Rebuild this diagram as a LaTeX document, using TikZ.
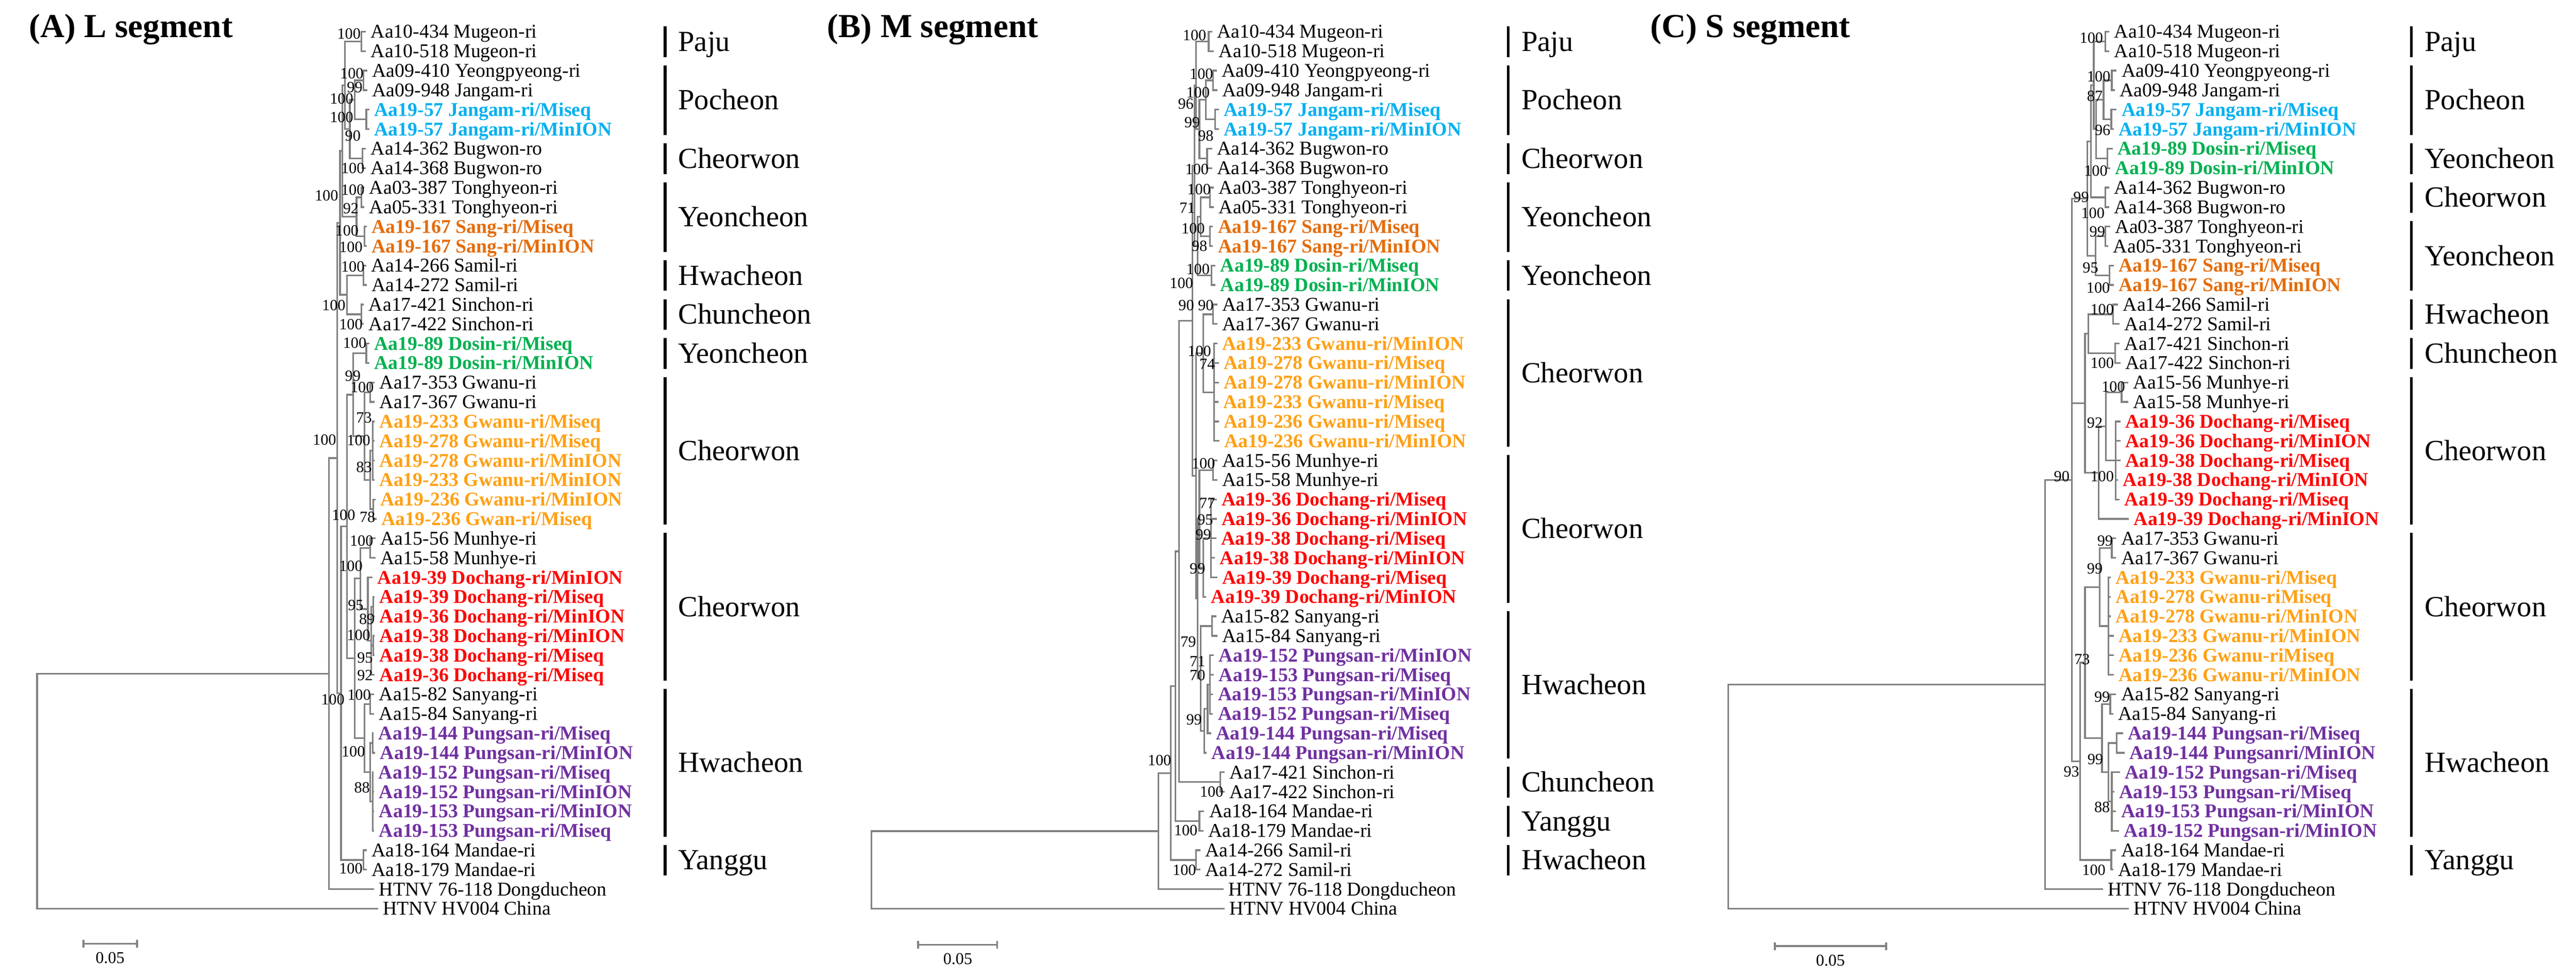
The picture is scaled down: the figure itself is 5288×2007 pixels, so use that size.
\documentclass[tikz,border=0pt]{standalone}
\usepackage{fontspec}
\setmainfont{Liberation Serif}
\usetikzlibrary{calc}
\definecolor{cblue}{RGB}{0,176,240}
\definecolor{csang}{RGB}{228,108,10}
\definecolor{cgreen}{RGB}{0,176,80}
\definecolor{corange}{RGB}{255,160,20}
\definecolor{cred}{RGB}{255,0,0}
\definecolor{cpurple}{RGB}{112,48,160}
\definecolor{tgray}{RGB}{128,128,128}
\tikzset{
 leaf/.style={anchor=west,inner xsep=10pt,inner ysep=0pt,text height=26.5pt,text depth=0pt,font=\fontsize{40}{40}\selectfont},
 cbl/.style={text=cblue,font=\fontsize{40}{40}\selectfont\bfseries},
 cso/.style={text=csang,font=\fontsize{40}{40}\selectfont\bfseries},
 cgr/.style={text=cgreen,font=\fontsize{40}{40}\selectfont\bfseries},
 cor/.style={text=corange,font=\fontsize{40}{40}\selectfont\bfseries},
 crd/.style={text=cred,font=\fontsize{40}{40}\selectfont\bfseries},
 cpu/.style={text=cpurple,font=\fontsize{40}{40}\selectfont\bfseries},
 br/.style={draw=tgray,line width=3.5pt},
 bsl/.style={anchor=west,inner sep=0pt,text height=21.6pt,text depth=0pt,font=\fontsize{32}{32}\selectfont},
 gbar/.style={draw=black,line width=6pt},
 glab/.style={anchor=west,inner sep=0pt,text height=40pt,text depth=0pt,font=\fontsize{60}{60}\selectfont},
 ttl/.style={anchor=west,inner sep=0pt,text height=45.7pt,text depth=0pt,font=\fontsize{69}{69}\selectfont\bfseries},
 sbar/.style={draw=tgray,line width=4pt},
 slab/.style={inner sep=0pt,font=\fontsize{34}{34}\selectfont}
}
\newcommand\lf[5]{\node[leaf,#1] (#2) at (#3,#4) {#5};}
\newcommand\tn[4]{\path let \p1=(#3), \p2=(#4) in node[coordinate] (#1) at (#2,{0.5*\y1+0.5*\y2}) {};}
\newcommand\br[2]{\draw[br] (#1) |- (#2);}
\newcommand\brs[2]{\foreach \q in {#2}{\br{#1}{\q}}}
\newcommand\pr[4]{\tn{#1}{#2}{#3.west}{#4.west}\br{#1}{#3.west}\br{#1}{#4.west}}
\newcommand\cl[4]{\tn{#1}{#2}{#3}{#4}\br{#1}{#3}\br{#1}{#4}}
\newcommand\bs[4]{\node[bsl] (#1) at (#2,#3) {#4};}
\newcommand\grp[5]{\coordinate (#1t) at (#2,{#3-11});\coordinate (#1b) at (#2,{#4+12});\draw[gbar] (#1t) -- (#1b);\node[glab] (#1) at ({#2+27},{(#3+#4)/2}) {#5};}
\newcommand\sbr[5]{\coordinate (#1a) at (#2,#4);\coordinate (#1b) at (#3,#4);\draw[sbar] (#1a) -- (#1b);\draw[sbar] ([yshift=8pt]#1a) -- ([yshift=-8pt]#1a);\draw[sbar] ([yshift=8pt]#1b) -- ([yshift=-8pt]#1b);\node[slab] (#1l) at ({(#2+#3)/2},{#4+29}) {#5};}
\begin{document}
\begin{tikzpicture}[x=1pt,y=-1pt]
\useasboundingbox (0,0) rectangle (5288,2007);
\fill[white] (0,0) rectangle (5288,2007);
% ================= Panel A =================
\node[ttl] (tA) at (60,54) {(A) L segment};
\lf{}{a1}{751}{65}{Aa10-434 Mugeon-ri}
\lf{}{a2}{751}{105}{Aa10-518 Mugeon-ri}
\lf{}{a3}{754}{145}{Aa09-410 Yeongpyeong-ri}
\lf{}{a4}{754}{185}{Aa09-948 Jangam-ri}
\lf{cbl}{a5}{758}{225}{Aa19-57 Jangam-ri/Miseq}
\lf{cbl}{a6}{758}{265}{Aa19-57 Jangam-ri/MinION}
\lf{}{a7}{751}{305}{Aa14-362 Bugwon-ro}
\lf{}{a8}{751}{345}{Aa14-368 Bugwon-ro}
\lf{}{a9}{748}{385}{Aa03-387 Tonghyeon-ri}
\lf{}{a10}{748}{425}{Aa05-331 Tonghyeon-ri}
\lf{cso}{a11}{753}{465}{Aa19-167 Sang-ri/Miseq}
\lf{cso}{a12}{753}{505}{Aa19-167 Sang-ri/MinION}
\lf{}{a13}{752}{545}{Aa14-266 Samil-ri}
\lf{}{a14}{753}{585}{Aa14-272 Samil-ri}
\lf{}{a15}{747}{625}{Aa17-421 Sinchon-ri}
\lf{}{a16}{747}{665}{Aa17-422 Sinchon-ri}
\lf{cgr}{a17}{758}{705}{Aa19-89 Dosin-ri/Miseq}
\lf{cgr}{a18}{758}{745}{Aa19-89 Dosin-ri/MinION}
\lf{}{a19}{769}{785}{Aa17-353 Gwanu-ri}
\lf{}{a20}{769}{825}{Aa17-367 Gwanu-ri}
\lf{cor}{a21}{769}{865}{Aa19-233 Gwanu-ri/Miseq}
\lf{cor}{a22}{769}{905}{Aa19-278 Gwanu-ri/Miseq}
\lf{cor}{a23}{769}{945}{Aa19-278 Gwanu-ri/MinION}
\lf{cor}{a24}{769}{985}{Aa19-233 Gwanu-ri/MinION}
\lf{cor}{a25}{771}{1025}{Aa19-236 Gwanu-ri/MinION}
\lf{cor}{a26}{773}{1065}{Aa19-236 Gwan-ri/Miseq}
\lf{}{a27}{771}{1105}{Aa15-56 Munhye-ri}
\lf{}{a28}{771}{1145}{Aa15-58 Munhye-ri}
\lf{crd}{a29}{765}{1185}{Aa19-39 Dochang-ri/MinION}
\lf{crd}{a30}{769}{1225}{Aa19-39 Dochang-ri/Miseq}
\lf{crd}{a31}{769}{1265}{Aa19-36 Dochang-ri/MinION}
\lf{crd}{a32}{769}{1305}{Aa19-38 Dochang-ri/MinION}
\lf{crd}{a33}{769}{1345}{Aa19-38 Dochang-ri/Miseq}
\lf{crd}{a34}{769}{1385}{Aa19-36 Dochang-ri/Miseq}
\lf{}{a35}{768}{1425}{Aa15-82 Sanyang-ri}
\lf{}{a36}{768}{1465}{Aa15-84 Sanyang-ri}
\lf{cpu}{a37}{767}{1505}{Aa19-144 Pungsan-ri/Miseq}
\lf{cpu}{a38}{770}{1545}{Aa19-144 Pungsan-ri/MinION}
\lf{cpu}{a39}{767}{1585}{Aa19-152 Pungsan-ri/Miseq}
\lf{cpu}{a40}{768}{1625}{Aa19-152 Pungsan-ri/MinION}
\lf{cpu}{a41}{768}{1665}{Aa19-153 Pungsan-ri/MinION}
\lf{cpu}{a42}{768}{1705}{Aa19-153 Pungsan-ri/Miseq}
\lf{}{a43}{753}{1745}{Aa18-164 Mandae-ri}
\lf{}{a44}{753}{1785}{Aa18-179 Mandae-ri}
\lf{}{a45}{768}{1825}{HTNV 76-118 Dongducheon}
\lf{}{a46}{776}{1865}{HTNV HV004 China}
\pr{A12}{742}{a1}{a2}
\pr{A34}{746}{a3}{a4}
\pr{A56}{752}{a5}{a6}
\cl{A36}{728}{A34}{A56}
\pr{A78}{744}{a7}{a8}
\cl{A38}{718}{A36}{A78}
\cl{A18}{708}{A12}{A38}
\pr{A910}{742}{a9}{a10}
\pr{A1112}{748}{a11}{a12}
\cl{A912}{732}{A910}{A1112}
\cl{A112}{703}{A18}{A912}
\pr{A1314}{746}{a13}{a14}
\pr{A1516}{742}{a15}{a16}
\cl{A1316}{712}{A1314}{A1516}
\cl{AX}{698}{A112}{A1316}
\pr{A1718}{752}{a17}{a18}
\pr{A1920}{760}{a19}{a20}
\tn{A2124}{765}{a21.west}{a24.west}\brs{A2124}{a21.west,a22.west,a23.west,a24.west}
\pr{A2526}{766}{a25}{a26}
\cl{AGO}{760}{A2124}{A2526}
\cl{A1926}{748}{A1920}{AGO}
\cl{A1726}{725}{A1718}{A1926}
\pr{A2728}{760}{a27}{a28}
\pr{A3031}{766}{a30}{a31}
\pr{A3233}{766}{a32}{a33}
\tn{A3034}{762}{A3031}{a34.west}\brs{A3034}{A3031,A3233,a34.west}
\tn{A2934}{755}{a29.west}{A3034}\brs{A2934}{a29.west,A3034}
\cl{A2734}{740}{A2728}{A2934}
\pr{A3536}{760}{a35}{a36}
\pr{A3738}{765}{a37}{a38}
\tn{A3942}{765}{a39.west}{a42.west}\brs{A3942}{a39.west,a40.west,a41.west,a42.west}
\cl{A3742}{760}{A3738}{A3942}
\cl{A3542}{748}{A3536}{A3742}
\cl{A2742}{728}{A2734}{A3542}
\cl{A1742}{712}{A1726}{A2742}
\pr{A4344}{746}{a43}{a44}
\cl{AY}{700}{A1742}{A4344}
\cl{AN2}{692}{AX}{AY}
\tn{AN1}{675}{AN2}{a45.west}\brs{AN1}{AN2,a45.west}
\tn{AR}{76}{AN1}{a46.west}\brs{AR}{AN1,a46.west}
\bs{bA1}{692}{69}{100}
\bs{bA2}{698}{150}{100}
\bs{bA3}{712}{179}{99}
\bs{bA4}{677}{202}{100}
\bs{bA5}{677}{240}{100}
\bs{bA6}{708}{278}{90}
\bs{bA7}{700}{345}{100}
\bs{bA8}{646}{401}{100}
\bs{bA9}{700}{390}{100}
\bs{bA10}{704}{428}{92}
\bs{bA11}{688}{473}{100}
\bs{bA12}{696}{507}{100}
\bs{bA13}{700}{547}{100}
\bs{bA14}{661}{626}{100}
\bs{bA15}{696}{666}{100}
\bs{bA16}{704}{704}{100}
\bs{bA17}{708}{771}{99}
\bs{bA18}{719}{795}{100}
\bs{bA19}{731}{857}{73}
\bs{bA20}{642}{902}{100}
\bs{bA21}{712}{904}{100}
\bs{bA22}{731}{958}{83}
\bs{bA23}{681}{1057}{100}
\bs{bA24}{738}{1061}{78}
\bs{bA25}{718}{1110}{100}
\bs{bA26}{696}{1162}{100}
\bs{bA27}{714}{1242}{95}
\bs{bA28}{737}{1270}{89}
\bs{bA29}{712}{1303}{100}
\bs{bA30}{733}{1350}{95}
\bs{bA31}{733}{1386}{92}
\bs{bA32}{659}{1435}{100}
\bs{bA33}{713}{1426}{100}
\bs{bA34}{701}{1542}{100}
\bs{bA35}{727}{1616}{88}
\bs{bA36}{696}{1782}{100}
\grp{gA1}{1365}{65}{105}{Paju}
\grp{gA2}{1365}{145}{265}{Pocheon}
\grp{gA3}{1365}{305}{345}{Cheorwon}
\grp{gA4}{1365}{385}{505}{Yeoncheon}
\grp{gA5}{1365}{545}{585}{Hwacheon}
\grp{gA6}{1365}{625}{665}{Chuncheon}
\grp{gA7}{1365}{705}{745}{Yeoncheon}
\grp{gA8}{1365}{785}{1065}{Cheorwon}
\grp{gA9}{1365}{1105}{1385}{Cheorwon}
\grp{gA10}{1365}{1425}{1705}{Hwacheon}
\grp{gA11}{1365}{1745}{1785}{Yanggu}
\sbr{sA}{171}{281}{1937}{0.05}
% ================= Panel B =================
\node[ttl] (tB) at (1698,54) {(B) M segment};
\lf{}{b1}{2488}{65}{Aa10-434 Mugeon-ri}
\lf{}{b2}{2492}{105}{Aa10-518 Mugeon-ri}
\lf{}{b3}{2498}{145}{Aa09-410 Yeongpyeong-ri}
\lf{}{b4}{2499}{185}{Aa09-948 Jangam-ri}
\lf{cbl}{b5}{2502}{225}{Aa19-57 Jangam-ri/Miseq}
\lf{cbl}{b6}{2502}{265}{Aa19-57 Jangam-ri/MinION}
\lf{}{b7}{2488}{305}{Aa14-362 Bugwon-ro}
\lf{}{b8}{2488}{345}{Aa14-368 Bugwon-ro}
\lf{}{b9}{2492}{385}{Aa03-387 Tonghyeon-ri}
\lf{}{b10}{2492}{425}{Aa05-331 Tonghyeon-ri}
\lf{cso}{b11}{2490}{465}{Aa19-167 Sang-ri/Miseq}
\lf{cso}{b12}{2490}{505}{Aa19-167 Sang-ri/MinION}
\lf{cgr}{b13}{2495}{545}{Aa19-89 Dosin-ri/Miseq}
\lf{cgr}{b14}{2495}{585}{Aa19-89 Dosin-ri/MinION}
\lf{}{b15}{2499}{625}{Aa17-353 Gwanu-ri}
\lf{}{b16}{2499}{665}{Aa17-367 Gwanu-ri}
\lf{cor}{b17}{2499}{705}{Aa19-233 Gwanu-ri/MinION}
\lf{cor}{b18}{2502}{745}{Aa19-278 Gwanu-ri/Miseq}
\lf{cor}{b19}{2502}{785}{Aa19-278 Gwanu-ri/MinION}
\lf{cor}{b20}{2501}{825}{Aa19-233 Gwanu-ri/Miseq}
\lf{cor}{b21}{2502}{865}{Aa19-236 Gwanu-ri/Miseq}
\lf{cor}{b22}{2503}{905}{Aa19-236 Gwanu-ri/MinION}
\lf{}{b23}{2499}{945}{Aa15-56 Munhye-ri}
\lf{}{b24}{2499}{985}{Aa15-58 Munhye-ri}
\lf{crd}{b25}{2498}{1025}{Aa19-36 Dochang-ri/Miseq}
\lf{crd}{b26}{2498}{1065}{Aa19-36 Dochang-ri/MinION}
\lf{crd}{b27}{2497}{1105}{Aa19-38 Dochang-ri/Miseq}
\lf{crd}{b28}{2494}{1145}{Aa19-38 Dochang-ri/MinION}
\lf{crd}{b29}{2499}{1185}{Aa19-39 Dochang-ri/Miseq}
\lf{crd}{b30}{2476}{1225}{Aa19-39 Dochang-ri/MinION}
\lf{}{b31}{2497}{1265}{Aa15-82 Sanyang-ri}
\lf{}{b32}{2499}{1305}{Aa15-84 Sanyang-ri}
\lf{cpu}{b33}{2492}{1345}{Aa19-152 Pungsan-ri/MinION}
\lf{cpu}{b34}{2492}{1385}{Aa19-153 Pungsan-ri/Miseq}
\lf{cpu}{b35}{2490}{1425}{Aa19-153 Pungsan-ri/MinION}
\lf{cpu}{b36}{2490}{1465}{Aa19-152 Pungsan-ri/Miseq}
\lf{cpu}{b37}{2486}{1505}{Aa19-144 Pungsan-ri/Miseq}
\lf{cpu}{b38}{2477}{1545}{Aa19-144 Pungsan-ri/MinION}
\lf{}{b39}{2514}{1585}{Aa17-421 Sinchon-ri}
\lf{}{b40}{2514}{1625}{Aa17-422 Sinchon-ri}
\lf{}{b41}{2472}{1665}{Aa18-164 Mandae-ri}
\lf{}{b42}{2470}{1705}{Aa18-179 Mandae-ri}
\lf{}{b43}{2464}{1745}{Aa14-266 Samil-ri}
\lf{}{b44}{2464}{1785}{Aa14-272 Samil-ri}
\lf{}{b45}{2512}{1825}{HTNV 76-118 Dongducheon}
\lf{}{b46}{2514}{1865}{HTNV HV004 China}
\pr{B12}{2481}{b1}{b2}
\pr{B34}{2490}{b3}{b4}
\pr{B56}{2494}{b5}{b6}
\cl{B36}{2475}{B34}{B56}
\pr{B78}{2478}{b7}{b8}
\cl{B38}{2462}{B36}{B78}
\cl{B18}{2455}{B12}{B38}
\pr{B910}{2484}{b9}{b10}
\pr{B1112}{2484}{b11}{b12}
\cl{B912}{2465}{B910}{B1112}
\pr{B1314}{2487}{b13}{b14}
\cl{B914}{2458}{B912}{B1314}
\cl{BT}{2452}{B18}{B914}
\pr{B1516}{2490}{b15}{b16}
\tn{B1722}{2492}{b17.west}{b22.west}\brs{B1722}{b17.west,b18.west,b19.west,b20.west,b21.west,b22.west}
\cl{BG}{2470}{B1516}{B1722}
\pr{B2324}{2490}{b23}{b24}
\tn{B2529}{2486}{b25.west}{b29.west}\brs{B2529}{b25.west,b26.west,b27.west,b28.west,b29.west}
\tn{B2530}{2470}{B2529}{b30.west}\brs{B2530}{B2529,b30.west}
\cl{BM}{2462}{B2324}{B2530}
\pr{B3132}{2488}{b31}{b32}
\tn{B3336}{2484}{b33.west}{b36.west}\brs{B3336}{b33.west,b34.west,b35.west,b36.west}
\tn{B3337}{2479}{B3336}{b37.west}\brs{B3337}{B3336,b37.west}
\tn{B3338}{2472}{B3337}{b38.west}\brs{B3338}{B3337,b38.west}
\cl{BS}{2465}{B3132}{B3338}
\cl{BMS}{2458}{BM}{BS}
\cl{BU}{2455}{BG}{BMS}
\cl{BI3}{2448}{BT}{BU}
\pr{B3940}{2505}{b39}{b40}
\cl{BI2}{2420}{BI3}{B3940}
\pr{B4142}{2462}{b41}{b42}
\cl{BI1}{2413}{BI2}{B4142}
\pr{B4344}{2455}{b43}{b44}
\cl{BI}{2403}{BI1}{B4344}
\tn{BN1}{2378}{BI}{b45.west}\brs{BN1}{BI,b45.west}
\tn{BR}{1789}{BN1}{b46.west}\brs{BR}{BN1,b46.west}
\bs{bB1}{2428}{72}{100}
\bs{bB2}{2442}{152}{100}
\bs{bB3}{2435}{190}{100}
\bs{bB4}{2418}{213}{96}
\bs{bB5}{2431}{251}{99}
\bs{bB6}{2459}{278}{98}
\bs{bB7}{2433}{347}{100}
\bs{bB8}{2437}{388}{100}
\bs{bB9}{2421}{426}{71}
\bs{bB10}{2425}{469}{100}
\bs{bB11}{2446}{505}{98}
\bs{bB12}{2435}{552}{100}
\bs{bB13}{2401}{581}{100}
\bs{bB14}{2419}{626}{90}
\bs{bB15}{2459}{626}{90}
\bs{bB16}{2438}{720}{100}
\bs{bB17}{2462}{747}{74}
\bs{bB18}{2446}{951}{100}
\bs{bB19}{2462}{1032}{77}
\bs{bB20}{2458}{1066}{95}
\bs{bB21}{2454}{1097}{99}
\bs{bB22}{2442}{1167}{99}
\bs{bB23}{2423}{1317}{79}
\bs{bB24}{2442}{1357}{71}
\bs{bB25}{2442}{1386}{70}
\bs{bB26}{2435}{1477}{99}
\bs{bB27}{2356}{1560}{100}
\bs{bB28}{2463}{1625}{100}
\bs{bB29}{2410}{1704}{100}
\bs{bB30}{2407}{1785}{100}
\grp{gB1}{3096}{65}{105}{Paju}
\grp{gB2}{3096}{145}{265}{Pocheon}
\grp{gB3}{3096}{305}{345}{Cheorwon}
\grp{gB4}{3096}{385}{505}{Yeoncheon}
\grp{gB5}{3096}{545}{585}{Yeoncheon}
\grp{gB6}{3096}{625}{905}{Cheorwon}
\grp{gB7}{3096}{945}{1225}{Cheorwon}
\grp{gB8}{3096}{1265}{1545}{Hwacheon}
\grp{gB9}{3096}{1585}{1625}{Chuncheon}
\grp{gB10}{3096}{1665}{1705}{Yanggu}
\grp{gB11}{3096}{1745}{1785}{Hwacheon}
\sbr{sB}{1885}{2047}{1939}{0.05}
% ================= Panel C =================
\node[ttl] (tC) at (3388,54) {(C) S segment};
\lf{}{c1}{4330}{65}{Aa10-434 Mugeon-ri}
\lf{}{c2}{4330}{105}{Aa10-518 Mugeon-ri}
\lf{}{c3}{4345}{145}{Aa09-410 Yeongpyeong-ri}
\lf{}{c4}{4341}{185}{Aa09-948 Jangam-ri}
\lf{cbl}{c5}{4345}{225}{Aa19-57 Jangam-ri/Miseq}
\lf{cbl}{c6}{4339}{265}{Aa19-57 Jangam-ri/MinION}
\lf{cgr}{c7}{4337}{305}{Aa19-89 Dosin-ri/Miseq}
\lf{cgr}{c8}{4332}{345}{Aa19-89 Dosin-ri/MinION}
\lf{}{c9}{4330}{385}{Aa14-362 Bugwon-ro}
\lf{}{c10}{4330}{425}{Aa14-368 Bugwon-ro}
\lf{}{c11}{4332}{465}{Aa03-387 Tonghyeon-ri}
\lf{}{c12}{4328}{505}{Aa05-331 Tonghyeon-ri}
\lf{cso}{c13}{4339}{545}{Aa19-167 Sang-ri/Miseq}
\lf{cso}{c14}{4339}{585}{Aa19-167 Sang-ri/MinION}
\lf{}{c15}{4348}{625}{Aa14-266 Samil-ri}
\lf{}{c16}{4351}{665}{Aa14-272 Samil-ri}
\lf{}{c17}{4351}{705}{Aa17-421 Sinchon-ri}
\lf{}{c18}{4353}{745}{Aa17-422 Sinchon-ri}
\lf{}{c19}{4369}{785}{Aa15-56 Munhye-ri}
\lf{}{c20}{4369}{825}{Aa15-58 Munhye-ri}
\lf{crd}{c21}{4353}{865}{Aa19-36 Dochang-ri/Miseq}
\lf{crd}{c22}{4353}{905}{Aa19-36 Dochang-ri/MinION}
\lf{crd}{c23}{4353}{945}{Aa19-38 Dochang-ri/Miseq}
\lf{crd}{c24}{4348}{985}{Aa19-38 Dochang-ri/MinION}
\lf{crd}{c25}{4351}{1025}{Aa19-39 Dochang-ri/Miseq}
\lf{crd}{c26}{4370}{1065}{Aa19-39 Dochang-ri/MinION}
\lf{}{c27}{4344}{1105}{Aa17-353 Gwanu-ri}
\lf{}{c28}{4344}{1145}{Aa17-367 Gwanu-ri}
\lf{cor}{c29}{4333}{1185}{Aa19-233 Gwanu-ri/Miseq}
\lf{cor}{c30}{4333}{1225}{Aa19-278 Gwanu-riMiseq}
\lf{cor}{c31}{4333}{1265}{Aa19-278 Gwanu-ri/MinION}
\lf{cor}{c32}{4339}{1305}{Aa19-233 Gwanu-ri/MinION}
\lf{cor}{c33}{4339}{1345}{Aa19-236 Gwanu-riMiseq}
\lf{cor}{c34}{4339}{1385}{Aa19-236 Gwanu-ri/MinION}
\lf{}{c35}{4344}{1425}{Aa15-82 Sanyang-ri}
\lf{}{c36}{4338}{1465}{Aa15-84 Sanyang-ri}
\lf{cpu}{c37}{4358}{1505}{Aa19-144 Pungsan-ri/Miseq}
\lf{cpu}{c38}{4361}{1545}{Aa19-144 Pungsanri/MinION}
\lf{cpu}{c39}{4352}{1585}{Aa19-152 Pungsan-ri/Miseq}
\lf{cpu}{c40}{4340}{1625}{Aa19-153 Pungsan-ri/Miseq}
\lf{cpu}{c41}{4344}{1665}{Aa19-153 Pungsan-ri/MinION}
\lf{cpu}{c42}{4350}{1705}{Aa19-152 Pungsan-ri/MinION}
\lf{}{c43}{4344}{1745}{Aa18-164 Mandae-ri}
\lf{}{c44}{4338}{1785}{Aa18-179 Mandae-ri}
\lf{}{c45}{4317}{1825}{HTNV 76-118 Dongducheon}
\lf{}{c46}{4370}{1865}{HTNV HV004 China}
\pr{C12}{4322}{c1}{c2}
\pr{C34}{4335}{c3}{c4}
\pr{C56}{4334}{c5}{c6}
\cl{C36}{4318}{C34}{C56}
\pr{C78}{4326}{c7}{c8}
\cl{C38}{4303}{C36}{C78}
\cl{C18}{4298}{C12}{C38}
\pr{C910}{4322}{c9}{c10}
\cl{CA1}{4292}{C18}{C910}
\pr{C1112}{4322}{c11}{c12}
\pr{C1314}{4330}{c13}{c14}
\cl{CA2}{4302}{C1112}{C1314}
\cl{CA}{4285}{CA1}{CA2}
\pr{C1516}{4338}{c15}{c16}
\pr{C1718}{4342}{c17}{c18}
\cl{CSC}{4287}{C1516}{C1718}
\pr{C1920}{4355}{c19}{c20}
\tn{C2125}{4343}{c21.west}{c25.west}\brs{C2125}{c21.west,c22.west,c23.west,c24.west,c25.west}
\cl{CMDa}{4323}{C1920}{C2125}
\tn{CMD}{4308}{CMDa}{c26.west}\brs{CMD}{CMDa,c26.west}
\cl{CM}{4280}{CSC}{CMD}
\pr{C2728}{4335}{c27}{c28}
\tn{C2934}{4328}{c29.west}{c34.west}\brs{C2934}{c29.west,c30.west,c31.west,c32.west,c33.west,c34.west}
\cl{CGw}{4310}{C2728}{C2934}
\pr{C3536}{4332}{c35}{c36}
\pr{C3738}{4345}{c37}{c38}
\tn{C3942}{4335}{c39.west}{c42.west}\brs{C3942}{c39.west,c40.west,c41.west,c42.west}
\cl{CP}{4328}{C3738}{C3942}
\cl{CSP}{4315}{C3536}{CP}
\cl{CB1}{4280}{CGw}{CSP}
\pr{C4344}{4334}{c43}{c44}
\cl{CB}{4270}{CB1}{C4344}
\tn{CI}{4253}{CA}{CB}\brs{CI}{CA,CM,CB}
\tn{CN1}{4198}{CI}{c45.west}\brs{CN1}{CI,c45.west}
\tn{CR}{3548}{CN1}{c46.west}\brs{CR}{CN1,c46.west}
\bs{bC1}{4269}{78}{100}
\bs{bC2}{4284}{157}{100}
\bs{bC3}{4284}{197}{87}
\bs{bC4}{4300}{267}{96}
\bs{bC5}{4278}{350}{100}
\bs{bC6}{4256}{404}{99}
\bs{bC7}{4272}{437}{100}
\bs{bC8}{4289}{475}{99}
\bs{bC9}{4275}{549}{95}
\bs{bC10}{4283}{590}{100}
\bs{bC11}{4291}{635}{100}
\bs{bC12}{4291}{745}{100}
\bs{bC13}{4314}{794}{100}
\bs{bC14}{4284}{868}{92}
\bs{bC15}{4216}{978}{90}
\bs{bC16}{4291}{978}{100}
\bs{bC17}{4305}{1110}{99}
\bs{bC18}{4284}{1167}{99}
\bs{bC19}{4258}{1353}{73}
\bs{bC20}{4299}{1430}{99}
\bs{bC21}{4285}{1558}{99}
\bs{bC22}{4236}{1583}{93}
\bs{bC23}{4299}{1657}{88}
\bs{bC24}{4274}{1785}{100}
\grp{gC1}{4950}{65}{105}{Paju}
\grp{gC2}{4950}{145}{265}{Pocheon}
\grp{gC3}{4950}{305}{345}{Yeoncheon}
\grp{gC4}{4950}{385}{425}{Cheorwon}
\grp{gC5}{4950}{465}{585}{Yeoncheon}
\grp{gC6}{4950}{625}{665}{Hwacheon}
\grp{gC7}{4950}{705}{745}{Chuncheon}
\grp{gC8}{4950}{785}{1065}{Cheorwon}
\grp{gC9}{4950}{1105}{1385}{Cheorwon}
\grp{gC10}{4950}{1425}{1705}{Hwacheon}
\grp{gC11}{4950}{1745}{1785}{Yanggu}
\sbr{sC}{3643}{3872}{1942}{0.05}
\end{tikzpicture}
\end{document}
